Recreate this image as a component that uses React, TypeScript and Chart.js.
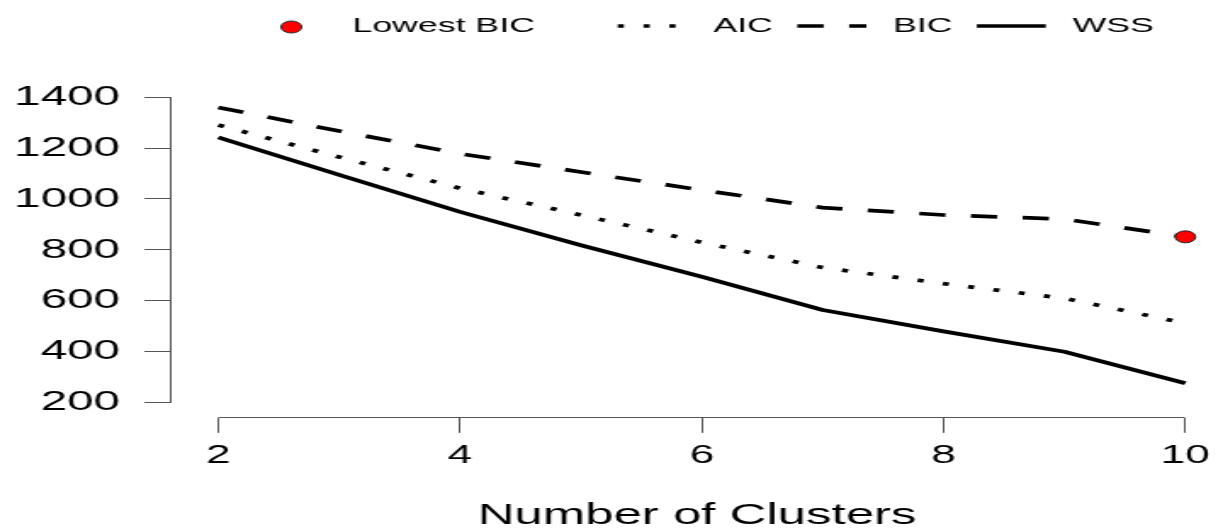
import React, { useEffect, useRef } from "react";
import { Chart, registerables } from "chart.js";

Chart.register(...registerables);

// ---- data ----
const clusters = [2, 3, 4, 5, 6, 7, 8, 9, 10];
const wss = [1242, 1095, 949, 818, 694, 563, 479, 399, 275];
const aic = [1291, 1165, 1042, 937, 829, 730, 667, 609, 511];
const bic = [1360, 1267, 1178, 1106, 1035, 966, 937, 921, 851];
const xTicks = [2, 4, 6, 8, 10];
const yTicks = [200, 400, 600, 800, 1000, 1200, 1400];
const pointLabel = "Lowest BIC";
const aicLabel = "AIC";
const bicLabel = "BIC";
const wssLabel = "WSS";
const xTitle = "Number of Clusters";

// ---- layout / style ----
const W = 720;
const H = 528;
const SX = 1223 / W;
const FONT = "'Liberation Sans', Arial, Helvetica, sans-serif";
const AXIS_COLOR = "#555555";
const LINE_W = 3.7;

const toXY = (vals: number[]) => clusters.map((c, i) => ({ x: c, y: vals[i] }));
const minIdx = bic.indexOf(Math.min(...bic));

const alignPx = (p: number) => Math.round(p - 0.5) + 0.5;

const axisPlugin = {
  id: "rAxes",
  beforeDatasetsDraw(chart: any) {
    const { ctx, chartArea, scales } = chart;
    const xs = scales.x;
    const ys = scales.y;
    ctx.save();
    ctx.strokeStyle = AXIS_COLOR;
    ctx.lineWidth = 1;
    ctx.beginPath();
    const lx = alignPx(chartArea.left);
    ctx.moveTo(lx, alignPx(ys.getPixelForValue(yTicks[0])));
    ctx.lineTo(lx, alignPx(ys.getPixelForValue(yTicks[yTicks.length - 1])));
    const by = alignPx(chartArea.bottom);
    ctx.moveTo(alignPx(xs.getPixelForValue(xTicks[0])), by);
    ctx.lineTo(alignPx(xs.getPixelForValue(xTicks[xTicks.length - 1])), by);
    ctx.stroke();
    ctx.restore();
  },
};

const legendPlugin = {
  id: "rLegend",
  afterDraw(chart: any) {
    const ctx = chart.ctx;
    const datasets = chart.data.datasets;
    const sampleW = 40.6;
    const textGap = 15.7;
    const gaps = [48.8, 14.4, 14.4, 0];
    const y = 26;
    let x = 151.2;
    ctx.save();
    ctx.font = `21px ${FONT}`;
    ctx.textBaseline = "middle";
    ctx.textAlign = "left";
    datasets.forEach((ds: any, i: number) => {
      ctx.save();
      if (ds.showLine === false) {
        ctx.beginPath();
        ctx.arc(x + sampleW / 2, y + 1, ds.pointRadius, 0, Math.PI * 2);
        ctx.fillStyle = ds.pointBackgroundColor;
        ctx.fill();
        ctx.lineWidth = ds.pointBorderWidth;
        ctx.strokeStyle = ds.pointBorderColor;
        ctx.stroke();
      } else {
        ctx.beginPath();
        ctx.setLineDash(ds.borderDash || []);
        ctx.lineWidth = ds.borderWidth;
        ctx.strokeStyle = ds.borderColor;
        ctx.lineCap = "butt";
        ctx.moveTo(x, y);
        ctx.lineTo(x + sampleW, y);
        ctx.stroke();
      }
      ctx.restore();
      ctx.fillStyle = "#000000";
      ctx.fillText(ds.label, x + sampleW + textGap, y);
      x += sampleW + textGap + ctx.measureText(ds.label).width + gaps[i];
    });
    ctx.restore();
  },
};

export default function App() {
  const ref = useRef<HTMLCanvasElement | null>(null);

  useEffect(() => {
    const canvas = ref.current;
    if (!canvas) return;
    const lineBase = {
      borderColor: "#000000",
      backgroundColor: "#000000",
      borderWidth: LINE_W,
      pointRadius: 0,
      fill: false,
      tension: 0,
      borderJoinStyle: "round" as const,
      borderCapStyle: "butt" as const,
    };
    const chart = new Chart(canvas, {
      type: "line",
      data: {
        datasets: [
          {
            label: pointLabel,
            data: [{ x: clusters[minIdx], y: bic[minIdx] }],
            showLine: false,
            pointRadius: 6,
            pointBackgroundColor: "#FF0000",
            pointBorderColor: "#222222",
            pointBorderWidth: 1,
            borderColor: "#222222",
            backgroundColor: "#FF0000",
          },
          { ...lineBase, label: aicLabel, data: toXY(aic), borderDash: [3.6, 11.6] },
          { ...lineBase, label: bicLabel, data: toXY(bic), borderDash: [15.5, 15] },
          { ...lineBase, label: wssLabel, data: toXY(wss) },
        ] as any,
      },
      options: {
        animation: false,
        responsive: false,
        devicePixelRatio: 1,
        events: [],
        clip: false as any,
        layout: { autoPadding: false, padding: { top: 71.9, left: 0, right: 0, bottom: 0 } },
        plugins: {
          legend: { display: false },
          tooltip: { enabled: false },
          title: { display: false },
        },
        scales: {
          x: {
            type: "linear",
            min: 1.609,
            max: 10.312,
            afterBuildTicks: (s: any) => {
              s.ticks = xTicks.map((v) => ({ value: v }));
            },
            afterFit: (s: any) => {
              s.height = 110.5;
              s.paddingLeft = 0;
              s.paddingRight = 0;
            },
            grid: {
              display: true,
              drawOnChartArea: false,
              drawTicks: true,
              tickLength: 15.3,
              color: AXIS_COLOR,
              lineWidth: 1,
            },
            border: { display: false },
            ticks: {
              autoSkip: false,
              maxRotation: 0,
              minRotation: 0,
              padding: 10.2,
              color: "#000000",
              font: { family: FONT, size: 26, lineHeight: 1 },
              callback: (v: any) => `${v}`,
            },
            title: {
              display: true,
              text: xTitle,
              color: "#000000",
              padding: 0,
              font: { family: FONT, size: 30, lineHeight: "24px" },
            },
          },
          y: {
            type: "linear",
            min: 140.2,
            max: 1500,
            afterBuildTicks: (s: any) => {
              s.ticks = yTicks.map((v) => ({ value: v }));
            },
            afterFit: (s: any) => {
              s.width = 100.7;
              s.paddingTop = 0;
              s.paddingBottom = 0;
            },
            grid: {
              display: true,
              drawOnChartArea: false,
              drawTicks: true,
              tickLength: 15.7,
              color: AXIS_COLOR,
              lineWidth: 1,
            },
            border: { display: false },
            ticks: {
              autoSkip: false,
              padding: 14.4,
              color: "#000000",
              font: { family: FONT, size: 28, lineHeight: 1.2 },
              callback: (v: any) => `${v}`,
            },
          },
        },
      } as any,
      plugins: [axisPlugin, legendPlugin],
    });
    return () => chart.destroy();
  }, []);

  return (
    <div
      style={{
        position: "fixed",
        left: 0,
        top: 0,
        width: 1223,
        height: H,
        overflow: "hidden",
        background: "#ffffff",
      }}
    >
      <canvas
        ref={ref}
        width={W}
        height={H}
        style={{
          display: "block",
          width: W,
          height: H,
          transform: `scaleX(${SX})`,
          transformOrigin: "0 0",
        }}
      />
    </div>
  );
}
